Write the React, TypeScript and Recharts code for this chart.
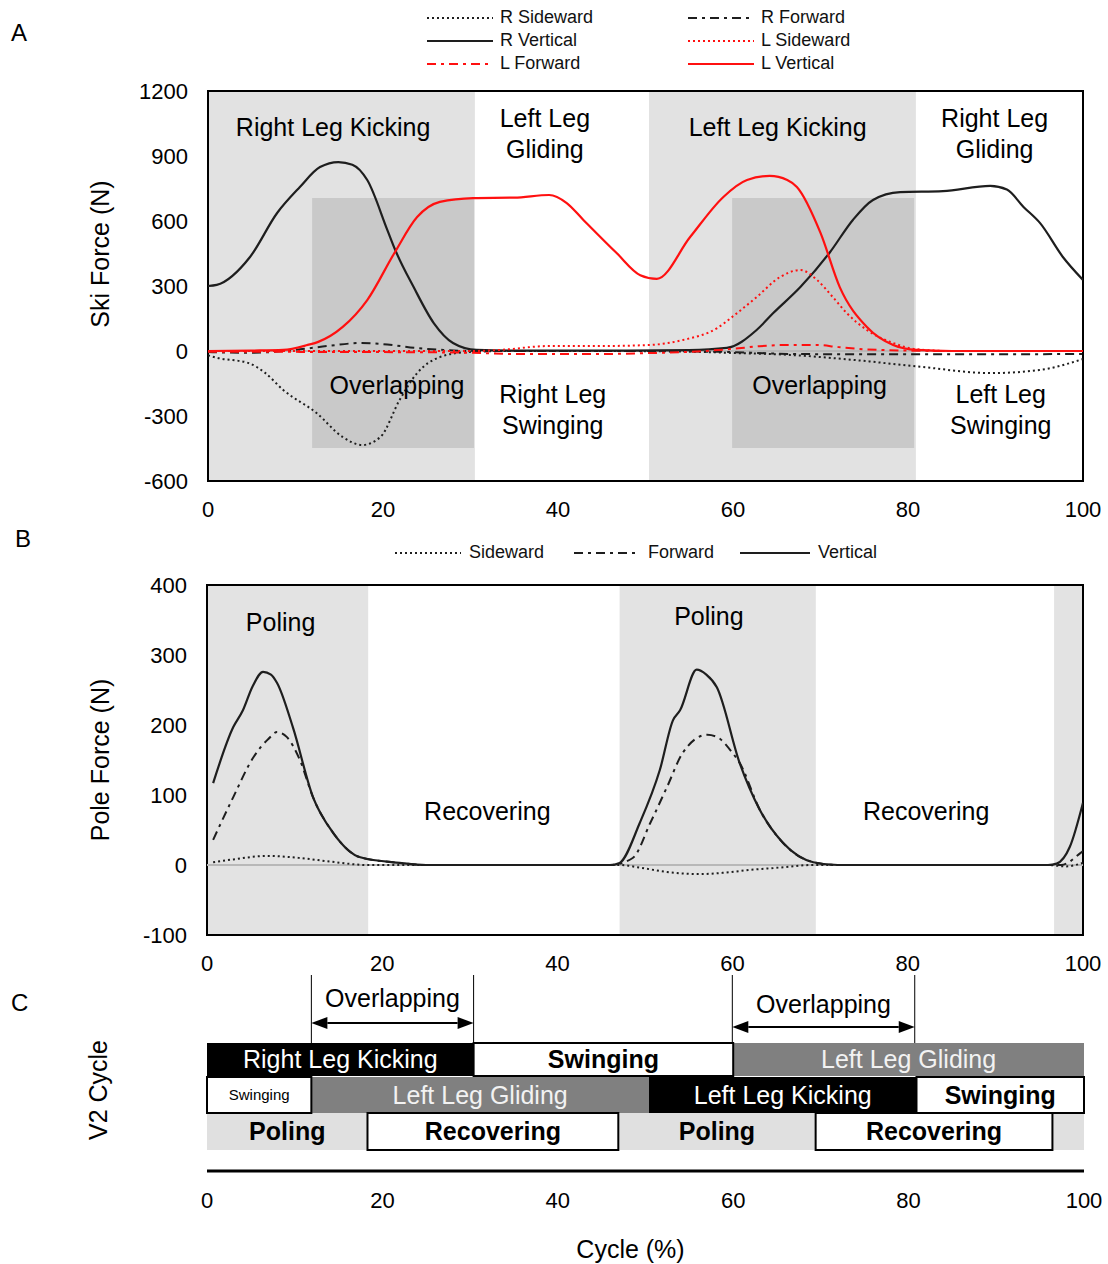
import React from "react";
import {
  LineChart,
  Line,
  XAxis,
  YAxis,
  ReferenceArea,
  ReferenceLine,
  ReferenceDot,
  Legend,
} from "recharts";

type Pt = [number, number];

// A: ski forces (N) against cycle (%)
const rSideward: Pt[] = [
  [0, -20], [1.1, -32], [4.6, -55], [6.5, -100], [8.6, -180], [12.4, -286], [15.4, -397],
  [17.6, -434], [19.7, -397], [21.9, -226], [23.9, -102], [26.5, -28], [29.6, -5],
  [35, 0], [45, 0], [55, -3], [60, -9], [66.5, -18], [74, -42], [81.7, -74],
  [89.4, -102], [95, -88], [100, -37],
];
const rForward: Pt[] = [
  [0, -5], [5, -8], [10, 5], [14, 25], [17.5, 37], [20.5, 30], [23.7, 14], [27, 5],
  [30, 0], [40, 0], [50, 0], [55, -2], [60, -5], [67, -14], [75, -15], [85, -15], [100, -14],
];
const rVertical: Pt[] = [
  [0, 300], [1, 305], [4.8, 434], [7.9, 637], [10.5, 757], [12.8, 849], [14.9, 872],
  [16.5, 860], [18.2, 789], [20.5, 558], [21.4, 466], [23.5, 295], [25.8, 129], [28, 37],
  [30.7, 5], [35, 2], [45, 2], [55, 4], [59.3, 14], [62.7, 97], [64.6, 175], [67.7, 295],
  [71.1, 457], [73.7, 605], [76, 697], [79.1, 733], [84, 738], [89.4, 762], [91.3, 745],
  [93.2, 665], [95.1, 590], [97.7, 434], [100, 328],
];
const lSideward: Pt[] = [
  [0, 0], [30, 0], [33.4, 5], [39, 23], [44.8, 23], [50.5, 28], [54.3, 51], [58.2, 106],
  [60, 160], [62.7, 249], [65.4, 342], [67.7, 374], [69.6, 328], [71.4, 249], [73, 175],
  [75.3, 97], [78.3, 37], [81, 8], [85, 0], [100, 0],
];
const lForward: Pt[] = [
  [0, -3], [10, -4], [20, -5], [30, -8], [35, -14], [45, -14], [50, -10], [55, -4],
  [60, 10], [63, 22], [66, 28], [69.6, 28], [72, 18], [75, 8], [80, 2], [85, 0], [100, 0],
];
const lVertical: Pt[] = [
  [0, 0], [5, 2], [8.6, 5], [11.4, 28], [12.6, 42], [15.4, 111], [18.2, 235], [21.3, 452],
  [23.9, 618], [26.5, 688], [30.3, 706], [35, 708], [39, 720], [41, 683], [42.9, 605],
  [46.7, 452], [49.4, 350], [51.3, 333], [55.1, 526], [58.9, 711], [61.6, 789], [64.2, 808],
  [66.2, 789], [67.3, 757], [70, 545], [72.2, 295], [75.3, 111], [78.3, 28], [81, 5],
  [85, 0], [100, 0],
];

// B: pole forces (N)
const poleSideward: Pt[] = [
  [0.7, 4], [3, 8], [6.8, 13], [10.6, 10], [14, 5], [18.3, 0], [46, 0], [47, 0], [50, -5],
  [52.5, -10], [56.3, -13], [59, -11], [62, -7], [66, -3], [69, 0], [96, 0], [98, -2], [100, 3],
];
const poleForward: Pt[] = [
  [0.7, 36], [3, 97], [5.3, 154], [7, 180], [8, 190], [9.1, 183], [10.6, 150], [12.1, 97],
  [14.4, 46], [17.5, 11], [22, 3], [25, 0], [46, 0], [48.6, 10], [50.6, 60], [52.5, 111],
  [54.3, 160], [57.1, 186], [58.2, 183], [60, 160], [60.8, 146], [63.1, 79], [65.8, 31],
  [69.2, 4], [72, 0], [97.5, 0], [99.7, 17], [100, 20],
];
const poleVertical: Pt[] = [
  [0.7, 117], [3, 197], [4.1, 221], [5.2, 255], [6.4, 276], [7.3, 272], [8, 260], [9.8, 197],
  [12.1, 97], [14.4, 46], [17.5, 11], [22, 3], [25, 0], [46, 0], [47.1, 3], [49.4, 60],
  [51.7, 136], [53.2, 207], [54, 221], [55.9, 279], [57, 272], [58.2, 254], [60.8, 146],
  [63.1, 79], [65.8, 31], [69.2, 4], [72, 0], [96, 0], [97, 2], [98.5, 26], [100, 89],
];

const cycleTicks = [0, 20, 40, 60, 80, 100];
const skiTicks = [-600, -300, 0, 300, 600, 900, 1200];
const poleTicks = [-100, 0, 100, 200, 300, 400];

// phases, % of cycle
const kickPhases: Pt[] = [[0, 30.5], [50.4, 80.9]];
const overlapPhases: Pt[] = [[11.9, 30.4], [59.9, 80.7]];
const polePhases: Pt[] = [[0, 18.4], [47.1, 69.5], [96.7, 100]];

// C: V2 cycle timeline rows
type Kind = "kick" | "glide" | "swing" | "pole" | "recover";
type Seg = { from: number; to: number; label: string; kind: Kind };
const rightLegRow: Seg[] = [
  { from: 0, to: 30.4, label: "Right Leg Kicking", kind: "kick" },
  { from: 30.4, to: 60, label: "Swinging", kind: "swing" },
  { from: 60, to: 100, label: "Left Leg Gliding", kind: "glide" },
];
const leftLegRow: Seg[] = [
  { from: 0, to: 11.9, label: "Swinging", kind: "swing" },
  { from: 11.9, to: 50.4, label: "Left Leg Gliding", kind: "glide" },
  { from: 50.4, to: 80.9, label: "Left Leg Kicking", kind: "kick" },
  { from: 80.9, to: 100, label: "Swinging", kind: "swing" },
];
const poleRow: Seg[] = [
  { from: 0, to: 18.3, label: "Poling", kind: "pole" },
  { from: 18.3, to: 46.9, label: "Recovering", kind: "recover" },
  { from: 46.9, to: 69.4, label: "Poling", kind: "pole" },
  { from: 69.4, to: 96.4, label: "Recovering", kind: "recover" },
  { from: 96.4, to: 100, label: "", kind: "pole" },
];

const INK = "#1e1e1e";
const RED = "#ff1010";
const DOT = "2 3";
const DASHDOT = "9 5 3 5";
const FONT = '"Liberation Sans", Arial, sans-serif';

const skiSeries = [
  { name: "R Sideward", data: rSideward, color: INK, dash: DOT },
  { name: "R Forward", data: rForward, color: INK, dash: DASHDOT },
  { name: "R Vertical", data: rVertical, color: INK, dash: undefined },
  { name: "L Sideward", data: lSideward, color: RED, dash: DOT },
  { name: "L Forward", data: lForward, color: RED, dash: DASHDOT },
  { name: "L Vertical", data: lVertical, color: RED, dash: undefined },
];
const poleSeries = [
  { name: "Sideward", data: poleSideward, color: INK, dash: DOT },
  { name: "Forward", data: poleForward, color: INK, dash: DASHDOT },
  { name: "Vertical", data: poleVertical, color: INK, dash: undefined },
];

// text placed in data coordinates
const skiNotes = [
  { x: 14.3, y: 1034, lines: ["Right Leg Kicking"] },
  { x: 38.5, y: 1004, lines: ["Left Leg", "Gliding"] },
  { x: 65.1, y: 1034, lines: ["Left Leg Kicking"] },
  { x: 89.9, y: 1004, lines: ["Right Leg", "Gliding"] },
  { x: 21.6, y: -157, lines: ["Overlapping"] },
  { x: 69.9, y: -157, lines: ["Overlapping"] },
  { x: 39.4, y: -272, lines: ["Right Leg", "Swinging"] },
  { x: 90.6, y: -272, lines: ["Left Leg", "Swinging"] },
];
const poleNotes = [
  { x: 8.4, y: 347, lines: ["Poling"] },
  { x: 57.3, y: 356, lines: ["Poling"] },
  { x: 32, y: 77, lines: ["Recovering"] },
  { x: 82.1, y: 77, lines: ["Recovering"] },
];

// timeline lanes (y units of panel C)
const lanes = [
  { y1: 4.75, y2: 6.4, row: rightLegRow },
  { y1: 2.9, y2: 4.7, row: leftLegRow },
  { y1: 1.05, y2: 2.9, row: poleRow },
];
const overlapMarks = [
  { arrowY: 7.4, textY: 8.65 },
  { arrowY: 7.2, textY: 8.35 },
];

const segStyle: Record<Kind, { fill: string; text: string; weight: number; stroke: string }> = {
  kick: { fill: "#000", text: "#fff", weight: 400, stroke: "none" },
  glide: { fill: "#808080", text: "#f2f2f2", weight: 400, stroke: "none" },
  swing: { fill: "#fff", text: "#000", weight: 700, stroke: "#000" },
  pole: { fill: "#e0e0e0", text: "#000", weight: 700, stroke: "none" },
  recover: { fill: "#fff", text: "#000", weight: 700, stroke: "#000" },
};

const toXY = (pts: Pt[]) => pts.map(([x, y]) => ({ x, y }));

const renderNote = (p: any, lines: string[], fs: number) => {
  const vb = p.viewBox ?? p;
  const cx = vb.x + (vb.width || 0) / 2;
  const cy = vb.y + (vb.height || 0) / 2;
  const lh = 31;
  const first = cy - ((lines.length - 1) * lh) / 2 + 0.35 * fs;
  return (
    <text x={cx} y={first} textAnchor="middle" fontSize={fs} fill="#000">
      {lines.map((l, i) => (
        <tspan key={i} x={cx} y={first + i * lh}>
          {l}
        </tspan>
      ))}
    </text>
  );
};

const note = (n: { x: number; y: number; lines: string[] }, key: string, fs = 25) => (
  <ReferenceDot
    key={key}
    x={n.x}
    y={n.y}
    r={0}
    fill="none"
    stroke="none"
    label={{ content: (p: any) => renderNote(p, n.lines, fs) }}
  />
);

const arrowShape = (p: any) => {
  const { x1, y1, x2, y2 } = p;
  const h = 16;
  const w = 6;
  return (
    <g>
      <line x1={x1 + h} y1={y1} x2={x2 - h} y2={y2} stroke="#000" strokeWidth={2} />
      <polygon points={`${x1},${y1} ${x1 + h},${y1 - w} ${x1 + h},${y1 + w}`} fill="#000" />
      <polygon points={`${x2},${y2} ${x2 - h},${y2 - w} ${x2 - h},${y2 + w}`} fill="#000" />
    </g>
  );
};

const LegendKey = ({ color, dash, width }: { color: string; dash?: string; width: number }) => (
  <svg width={width} height={10} style={{ display: "block" }}>
    <line x1={0} y1={5} x2={width} y2={5} stroke={color} strokeWidth={2} strokeDasharray={dash} />
  </svg>
);

const skiLegend = () => (
  <div
    style={{
      display: "grid",
      gridTemplateColumns: "261px 261px",
      marginLeft: 427,
      fontSize: 18,
      color: "#111",
    }}
  >
    {skiSeries.map((s) => (
      <div key={s.name} style={{ display: "flex", alignItems: "center", height: 23 }}>
        <LegendKey color={s.color} dash={s.dash} width={66} />
        <span style={{ marginLeft: 7 }}>{s.name}</span>
      </div>
    ))}
  </div>
);

const poleLegendWidths = [179, 166, 150];
const poleLegend = () => (
  <div style={{ display: "flex", marginLeft: 395, fontSize: 18, color: "#111" }}>
    {poleSeries.map((s, i) => (
      <div
        key={s.name}
        style={{ display: "flex", alignItems: "center", height: 23, width: poleLegendWidths[i] }}
      >
        <LegendKey color={s.color} dash={s.dash} width={i === 2 ? 70 : 66} />
        <span style={{ marginLeft: 8 }}>{s.name}</span>
      </div>
    ))}
  </div>
);

const tickStyle = { fontSize: 22, fill: "#000" };

const seriesLines = (list: typeof skiSeries) =>
  list.map((s) => (
    <Line
      key={s.name}
      data={toXY(s.data)}
      dataKey="y"
      name={s.name}
      type="monotone"
      stroke={s.color}
      strokeWidth={s.dash ? 2 : 2.2}
      strokeDasharray={s.dash}
      dot={false}
      activeDot={false}
      isAnimationActive={false}
    />
  ));

function SkiForceChart() {
  return (
    <LineChart width={1108} height={530} margin={{ top: 91, right: 25, bottom: 0, left: 0 }}>
      <XAxis
        type="number"
        dataKey="x"
        domain={[0, 100]}
        ticks={cycleTicks}
        interval={0}
        axisLine={false}
        tickLine={false}
        tickSize={0}
        tickMargin={20}
        tick={tickStyle}
        height={49}
        allowDataOverflow
      />
      <YAxis
        type="number"
        domain={[-600, 1200]}
        ticks={skiTicks}
        interval={0}
        axisLine={false}
        tickLine={false}
        tickSize={0}
        tickMargin={20}
        tick={tickStyle}
        width={208}
        allowDataOverflow
        label={{ value: "Ski Force (N)", angle: -90, position: "center", dx: -4, dy: -32, fontSize: 25, fill: "#000" }}
      />
      {kickPhases.map(([a, b]) => (
        <ReferenceArea key={`k${a}`} x1={a} x2={b} y1={-600} y2={1200} fill="#e2e2e2" fillOpacity={1} stroke="none" />
      ))}
      {overlapPhases.map(([a, b]) => (
        <ReferenceArea key={`o${a}`} x1={a} x2={b} y1={-448} y2={706} fill="#c9c9c9" fillOpacity={1} stroke="none" />
      ))}
      <ReferenceLine y={0} stroke="#b8b8b8" strokeWidth={2} />
      {seriesLines(skiSeries)}
      {skiNotes.map((n, i) => note(n, `sn${i}`))}
      <ReferenceArea x1={0} x2={100} y1={-600} y2={1200} fill="none" stroke="#000" strokeWidth={2} />
      <Legend
        layout="horizontal"
        align="center"
        verticalAlign="middle"
        wrapperStyle={{ top: 6, left: 0, width: 1108, height: "auto" }}
        content={skiLegend}
      />
    </LineChart>
  );
}

function PoleForceChart() {
  return (
    <LineChart width={1108} height={440} margin={{ top: 45, right: 25, bottom: 0, left: 0 }}>
      <XAxis
        type="number"
        dataKey="x"
        domain={[0, 100]}
        ticks={cycleTicks}
        interval={0}
        axisLine={false}
        tickLine={false}
        tickSize={0}
        tickMargin={20}
        tick={tickStyle}
        height={45}
        allowDataOverflow
      />
      <YAxis
        type="number"
        domain={[-100, 400]}
        ticks={poleTicks}
        interval={0}
        axisLine={false}
        tickLine={false}
        tickSize={0}
        tickMargin={20}
        tick={tickStyle}
        width={207}
        allowDataOverflow
        label={{ value: "Pole Force (N)", angle: -90, position: "center", dx: -3, fontSize: 25, fill: "#000" }}
      />
      {polePhases.map(([a, b]) => (
        <ReferenceArea key={`p${a}`} x1={a} x2={b} y1={-100} y2={400} fill="#e3e3e3" fillOpacity={1} stroke="none" />
      ))}
      <ReferenceLine y={0} stroke="#b8b8b8" strokeWidth={2} />
      {seriesLines(poleSeries)}
      {poleNotes.map((n, i) => note(n, `pn${i}`))}
      <ReferenceArea x1={0} x2={100} y1={-100} y2={400} fill="none" stroke="#000" strokeWidth={2} />
      <Legend
        layout="horizontal"
        align="center"
        verticalAlign="middle"
        wrapperStyle={{ top: 1, left: 0, width: 1108, height: "auto" }}
        content={poleLegend}
      />
    </LineChart>
  );
}

function CycleChart() {
  const segs = lanes.flatMap((lane, li) =>
    lane.row.map((s, si) => ({ ...s, y1: lane.y1, y2: lane.y2, key: `c${li}-${si}` }))
  );
  // plain fills first, outlined boxes on top
  const ordered = [
    ...segs.filter((s) => segStyle[s.kind].stroke === "none"),
    ...segs.filter((s) => segStyle[s.kind].stroke !== "none"),
  ];
  const bounds = segs.map((s) => ({ x: s.from, y: s.y1 }));
  return (
    <LineChart
      width={1108}
      height={304}
      data={bounds}
      margin={{ top: 11, right: 24, bottom: 0, left: 0 }}
    >
      <XAxis
        type="number"
        dataKey="x"
        domain={[0, 100]}
        ticks={cycleTicks}
        interval={0}
        axisLine={{ stroke: "#000", strokeWidth: 3 }}
        tickLine={false}
        tickSize={0}
        tickMargin={21}
        tick={tickStyle}
        height={93}
        allowDataOverflow
        label={{ value: "Cycle (%)", position: "insideBottom", offset: 6, dx: -15, fontSize: 25, fill: "#000" }}
      />
      <YAxis
        type="number"
        dataKey="y"
        domain={[0, 10]}
        axisLine={false}
        tickLine={false}
        tick={false}
        width={207}
        allowDataOverflow
        label={{ value: "V2 Cycle", angle: -90, position: "center", dx: -5, dy: 19, fontSize: 25, fill: "#000" }}
      />
      {ordered.map((s) => {
        const st = segStyle[s.kind];
        const small = s.to - s.from < 15;
        return (
          <ReferenceArea
            key={s.key}
            x1={s.from}
            x2={s.to}
            y1={s.y1}
            y2={s.y2}
            fill={st.fill}
            fillOpacity={1}
            stroke={st.stroke}
            strokeWidth={2}
            label={
              s.label
                ? {
                    value: s.label,
                    position: "center",
                    fill: st.text,
                    fontSize: small ? 15 : 25,
                    fontWeight: small ? 400 : st.weight,
                  }
                : undefined
            }
          />
        );
      })}
      {overlapPhases.map(([a, b], i) => (
        <React.Fragment key={`ov${i}`}>
          <ReferenceLine segment={[{ x: a, y: 6.4 }, { x: a, y: 9.8 }]} stroke="#000" strokeWidth={1} />
          <ReferenceLine segment={[{ x: b, y: 6.4 }, { x: b, y: 9.8 }]} stroke="#000" strokeWidth={1} />
          <ReferenceLine
            segment={[{ x: a, y: overlapMarks[i].arrowY }, { x: b, y: overlapMarks[i].arrowY }]}
            shape={arrowShape}
          />
          {note({ x: (a + b) / 2, y: overlapMarks[i].textY, lines: ["Overlapping"] }, `ovt${i}`)}
        </React.Fragment>
      ))}
    </LineChart>
  );
}

const panelLetter = (text: string, left: number, top: number) => (
  <div style={{ position: "absolute", left, top, fontSize: 24, lineHeight: "24px" }}>{text}</div>
);

export default function App() {
  return (
    <div
      style={{
        position: "absolute",
        left: 0,
        top: 0,
        width: 1108,
        height: 1264,
        background: "#fff",
        fontFamily: FONT,
        color: "#000",
        overflow: "hidden",
      }}
    >
      <div style={{ position: "absolute", left: 0, top: 0 }}>
        <SkiForceChart />
      </div>
      <div style={{ position: "absolute", left: 0, top: 540 }}>
        <PoleForceChart />
      </div>
      <div style={{ position: "absolute", left: 0, top: 960 }}>
        <CycleChart />
      </div>
      {panelLetter("A", 11, 21)}
      {panelLetter("B", 15, 527)}
      {panelLetter("C", 11, 991)}
    </div>
  );
}
